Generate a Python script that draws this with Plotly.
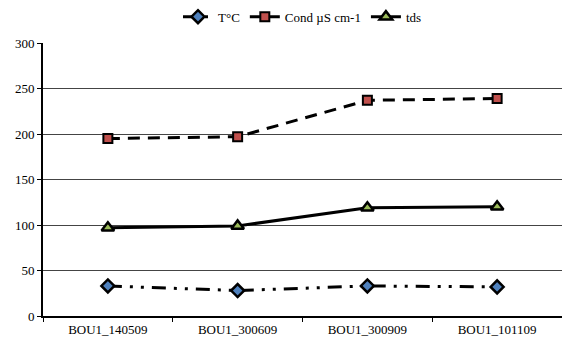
import plotly.graph_objects as go

categories = ["BOU1_140509", "BOU1_300609", "BOU1_300909", "BOU1_101109"]
temp = [33, 28, 33, 32]
cond = [195, 197, 237, 239]
tds = [97, 99, 119, 120]
y_ticks = [0, 50, 100, 150, 200, 250, 300]

font = dict(family="Liberation Serif", size=13, color="black")

fig = go.Figure()
fig.add_trace(go.Scatter(
    x=categories, y=temp, name="T°C", mode="lines+markers",
    line=dict(color="black", width=3, dash="14px,8px,3px,8px,3px,8px"),
    marker=dict(symbol="diamond", size=10, color="#4F81BD", line=dict(color="black", width=2.5)),
))
fig.add_trace(go.Scatter(
    x=categories, y=cond, name="Cond µS cm-1", mode="lines+markers",
    line=dict(color="black", width=3, dash="12px,8px"),
    marker=dict(symbol="square", size=9, color="#C0504D", line=dict(color="black", width=2)),
))
fig.add_trace(go.Scatter(
    x=categories, y=tds, name="tds", mode="lines+markers",
    line=dict(color="black", width=3),
    marker=dict(symbol="triangle-up", size=11, color="#9BBB59", line=dict(color="black", width=2.5)),
))

fig.update_layout(
    width=562, height=344,
    margin=dict(l=43, r=0, t=43, b=28),
    paper_bgcolor="white", plot_bgcolor="white",
    font=font,
    showlegend=True,
    legend=dict(orientation="h", x=0.5, xanchor="center", y=0.995, yanchor="top",
                yref="container", font=font, itemwidth=30, tracegroupgap=0,
                bgcolor="rgba(0,0,0,0)"),
    xaxis=dict(
        type="category", showgrid=False, showline=True, linecolor="black", linewidth=2,
        ticks="outside", tickson="boundaries", ticklen=4, tickcolor="black", tickwidth=1,
        tickfont=font, range=[-0.5, 3.5],
    ),
    yaxis=dict(
        range=[0, 300], tickvals=y_ticks, showgrid=True, gridcolor="#444444", gridwidth=1,
        showline=True, linecolor="black", linewidth=2, ticks="outside", ticklen=4,
        tickcolor="black", tickfont=font, zeroline=False, mirror=False,
    ),
)
fig.write_html("out.html")
